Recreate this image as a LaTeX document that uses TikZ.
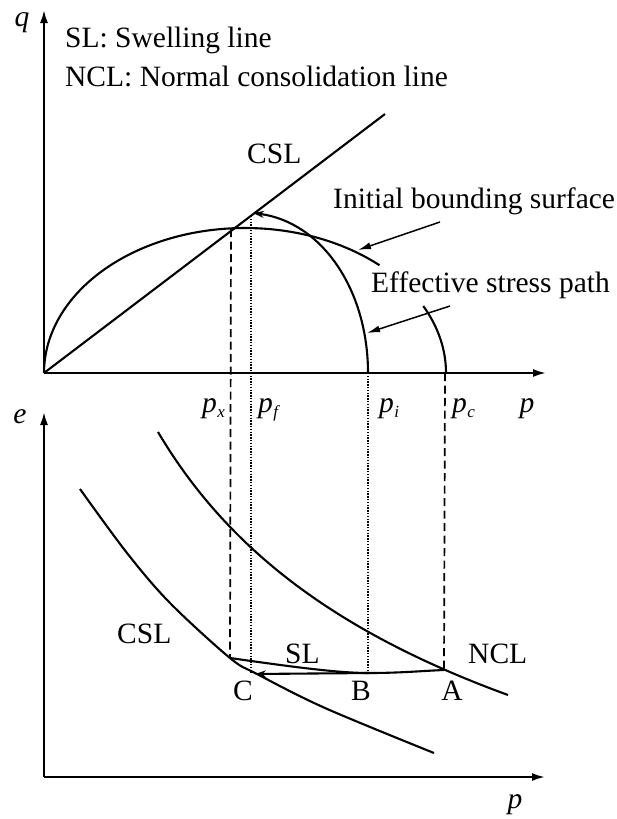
\documentclass[tikz,border=0pt]{standalone}
\usepackage{fontspec}
\setmainfont{Liberation Serif}
\usetikzlibrary{arrows.meta}
\newcommand\psub[1]{\textit{p}\kern0.5pt\raisebox{-5pt}{\fontsize{17}{17}\selectfont\textit{#1}}}
\begin{document}
\begin{tikzpicture}[x=1pt,y=-1pt,
  font=\fontsize{29.5}{34}\selectfont,
  axis/.style={line width=2.1pt,-{Latex[length=13pt,width=8pt]}},
  curve/.style={line width=2.1pt},
  pointer/.style={line width=1.5pt,-{Latex[length=13pt,width=7pt]}},
  dashline/.style={line width=1.7pt,dash pattern=on 8pt off 4.5pt},
  dotline/.style={line width=1.5pt,dash pattern=on 1.3pt off 1.5pt},
  lbl/.style={inner sep=0pt}]
\useasboundingbox (0,0) rectangle (616,819);
% ---------- top diagram: axes
\coordinate (O1) at (44,373);
\coordinate (qtip) at (44,10);
\coordinate (p1tip) at (546,373);
\draw[axis] (O1) -- (qtip);
\draw[axis] (O1) -- (p1tip);
\node[lbl,anchor=base] (q) at (22,27) {\textit{q}};
\node[lbl,anchor=base west] (sl) at (65,47) {SL: Swelling line};
\node[lbl,anchor=base west] (ncl) at (65,86) {NCL: Normal consolidation line};
% CSL
\coordinate (cslend) at (385,114);
\draw[curve] (O1) -- (cslend);
\node[lbl,anchor=base west] (csl1) at (247,163) {CSL};
% initial bounding surface (ellipse)
\draw[curve] plot[domain=180:48,samples=90] ({245+201*cos(\x)},{373-145*sin(\x)});
\draw[curve] plot[domain=27.5:0,samples=40] ({245+201*cos(\x)},{373-145*sin(\x)});
% effective stress path
\coordinate (Pi) at (368,373);
\coordinate (Pf) at (253,213);
\draw[curve,-{Stealth[length=11pt,width=7pt]}] (Pi) .. controls (368,290) and (322,222) .. (Pf);
% labels and pointers
\node[lbl,anchor=base west] (ibs) at (333,208) {Initial bounding surface};
\node[lbl,anchor=base west] (esp) at (371,292) {Effective stress path};
\coordinate (ibs1) at (440,222);
\coordinate (ibs2) at (358,250);
\draw[pointer] (ibs1) -- (ibs2);
\coordinate (esp1) at (450,306);
\coordinate (esp2) at (367,333);
\draw[pointer] (esp1) -- (esp2);
% axis labels
\node[lbl,anchor=base east] (px) at (225,412) {\psub{x}};
\node[lbl,anchor=base west] (pf) at (258,412) {\psub{f}};
\node[lbl,anchor=base west] (pil) at (379,412) {\psub{i}};
\node[lbl,anchor=base west] (pcl) at (452,412) {\psub{c}};
\node[lbl,anchor=base] (p1) at (527,412) {\textit{p}};
% ---------- bottom diagram: axes
\coordinate (O2) at (44,777);
\coordinate (etip) at (44,412);
\coordinate (p2tip) at (545,777);
\draw[axis] (O2) -- (etip);
\draw[axis] (O2) -- (p2tip);
\node[lbl,anchor=base] (e) at (20,423) {\textit{e}};
\node[lbl,anchor=base] (p2) at (515,808) {\textit{p}};
% NCL
\coordinate (n1) at (158,432);
\coordinate (n2) at (508,695);
\draw[curve] (n1) .. controls (225,545) and (330,630) .. (n2);
% CSL lower
\draw[curve] plot[smooth,tension=0.55] coordinates {(80,489) (127,553) (170,603) (230,658) (257,674) (325,708) (434,753)};
% swelling line
\coordinate (Cs) at (230,658);
\coordinate (B) at (369,673);
\coordinate (A) at (444,670);
\coordinate (C) at (255,674);
\draw[curve] (Cs) .. controls (300,668) and (340,673) .. (B) .. controls (400,673) and (420,671) .. (A);
\draw[curve,-{Stealth[length=11pt,width=7pt]}] (B) -- (C);
% projection lines
\coordinate (xT) at (231,229);
\draw[dashline] (xT) -- (Cs);
\coordinate (cT) at (445,373);
\draw[dashline] (cT) -- (A);
\coordinate (fT) at (251,216);
\coordinate (fB) at (251,673);
\draw[dotline] (fT) -- (fB);
\coordinate (iB) at (368,672);
\draw[dotline] (Pi) -- (iB);
% lower labels
\node[lbl,anchor=base west] (csl2) at (117,643) {CSL};
\node[lbl,anchor=base west] (slab) at (285,663) {SL};
\node[lbl,anchor=base west] (nclab) at (468,663) {NCL};
\node[lbl,anchor=base] (Cl) at (243,700) {C};
\node[lbl,anchor=base] (Bl) at (361,700) {B};
\node[lbl,anchor=base] (Al) at (452,700) {A};
\end{tikzpicture}
\end{document}
